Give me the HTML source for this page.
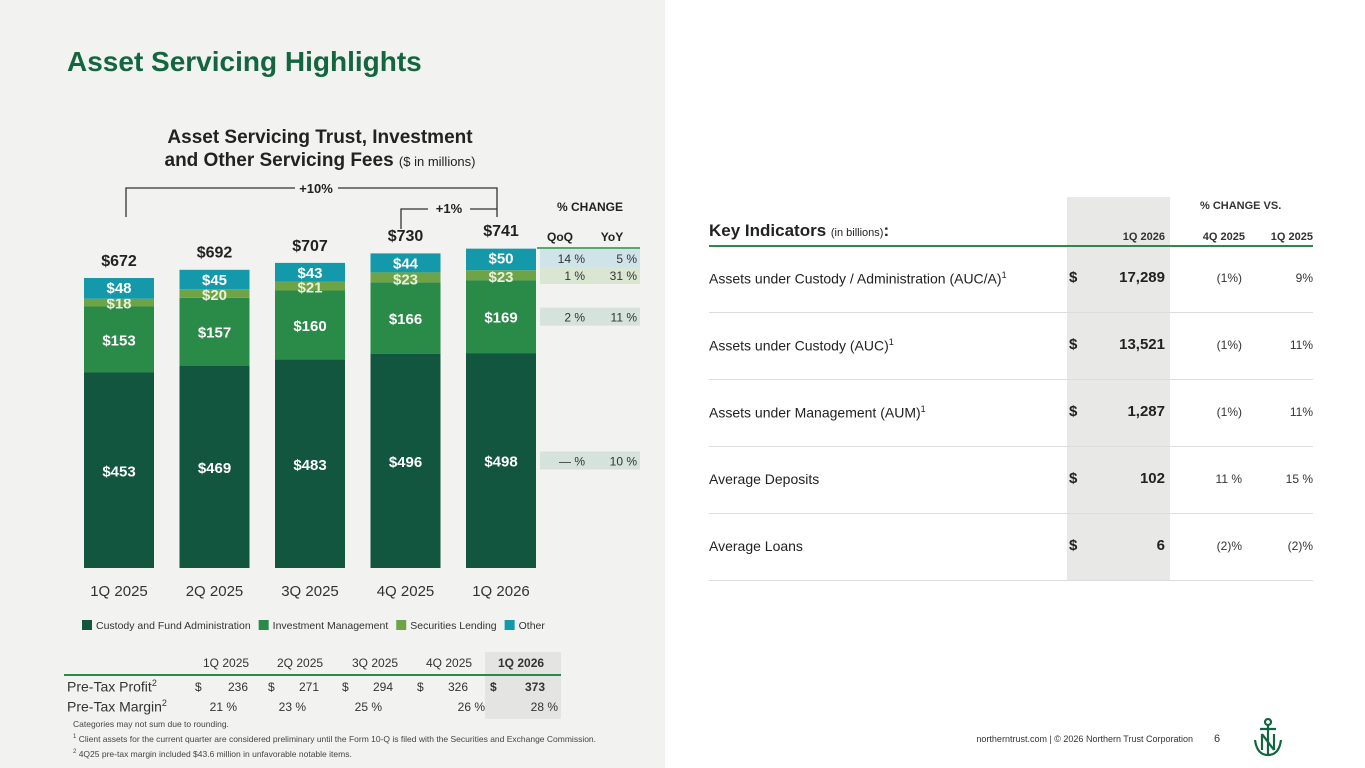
<!DOCTYPE html>
<html><head><meta charset="utf-8"><style>
body{margin:0;width:1365px;height:768px;position:relative;font-family:"Liberation Sans",sans-serif;background:#fff;overflow:hidden}
.abs{position:absolute}
#left{position:absolute;left:0;top:0;width:665px;height:768px;background:#f2f2f0}
.t{position:absolute;white-space:nowrap}
.r{text-align:right}
</style></head><body>
<div id="left"></div>
<div class="t" style="left:67px;top:46px;font-size:28px;font-weight:bold;color:#13663f">Asset Servicing Highlights</div>
<div class="t" style="left:120px;top:126px;width:400px;text-align:center;font-size:19px;font-weight:bold;color:#222;line-height:23px">Asset Servicing Trust, Investment<br>and Other Servicing Fees <span style="font-size:13px;font-weight:normal">($ in millions)</span></div>
<svg id="chart" class="abs" style="left:0;top:0" width="665" height="768"></svg>
<script>
const categories=["1Q 2025","2Q 2025","3Q 2025","4Q 2025","1Q 2026"];
const custody=[453,469,483,496,498];
const invMgmt=[153,157,160,166,169];
const secLending=[18,20,21,23,23];
const other=[48,45,43,44,50];
const totals=[672,692,707,730,741];
const seriesNames=["Custody and Fund Administration","Investment Management","Securities Lending","Other"];
const qoq=["— %","2 %","1 %","14 %"];
const yoy=["10 %","11 %","31 %","5 %"];
const colors=["#13563f","#2a8a47","#6ea446","#1499aa"];
const NS="http://www.w3.org/2000/svg";
const svg=document.getElementById('chart');
const base=568, k=290/672, barW=70;
const xC=i=>119+i*95.5;
const y=v=>base-v*k;
function mk(tag,attrs,txt){const e=document.createElementNS(NS,tag);for(const a in attrs)e.setAttribute(a,attrs[a]);if(txt!==undefined)e.textContent=txt;svg.appendChild(e);return e;}
const series=[custody,invMgmt,secLending,other];
categories.forEach((c,i)=>{
  let cum=0;
  series.forEach((s,j)=>{
    const r=mk('rect',{x:xC(i)-barW/2,y:y(cum+s[i]),width:barW,height:s[i]*k,fill:colors[j]});
    
    
    let ly=y(cum+s[i]/2)+6;
    if(j==2) ly=y(cum)+2;
    if(j==3) ly=y(cum+s[i])+15;
    const t=mk('text',{x:xC(i),y:ly,'text-anchor':'middle','font-size':15,'font-weight':'bold',fill:j==2?'#e8f0dc':'#fff','font-family':'Liberation Sans'},'$'+s[i]);
    
    
    cum+=s[i];
  });
  const tt=mk('text',{x:xC(i),y:y(totals[i])-12,'text-anchor':'middle','font-size':16,'font-weight':'bold',fill:'#222','font-family':'Liberation Sans'},'$'+totals[i]);
  
  
  const cl=mk('text',{x:xC(i),y:596,'text-anchor':'middle','font-size':15,fill:'#333','font-family':'Liberation Sans'},c);
  
  
});
mk('path',{d:'M126 217 V188 H295 M338 188 H497 V217',stroke:'#333',fill:'none','stroke-width':1.3});
mk('text',{x:316,y:193,'text-anchor':'middle','font-size':13,'font-weight':'bold',fill:'#222'},'+10%');
mk('path',{d:'M401 229 V209 H428 M470 209 H497',stroke:'#333',fill:'none','stroke-width':1.3});
mk('text',{x:449,y:213,'text-anchor':'middle','font-size':13,'font-weight':'bold',fill:'#222'},'+1%');
mk('text',{x:590,y:211,'text-anchor':'middle','font-size':12,'font-weight':'bold',fill:'#222'},'% CHANGE');
mk('text',{x:560,y:241,'text-anchor':'middle','font-size':12,'font-weight':'bold',fill:'#222'},'QoQ');
mk('text',{x:612,y:241,'text-anchor':'middle','font-size':12,'font-weight':'bold',fill:'#222'},'YoY');
mk('line',{x1:537,x2:640,y1:248,y2:248,stroke:'#2a8a47','stroke-width':1.5});
const rowBg=["#d5e3dc","#d5e3dc","#dbe6d2","#cfe4e8"];
let cum=0;
series.forEach((s,j)=>{
  const v=s[4];
  let cy=y(cum+v/2); if(j==3) cy=258;
  if(j==2) cy=275;
  const r=mk('rect',{x:540,y:cy-9,width:100,height:18,fill:rowBg[j]});
  
  
  mk('text',{x:585,y:cy+5,'text-anchor':'end','font-size':12,fill:'#333'},qoq[j]);
  mk('text',{x:637,y:cy+5,'text-anchor':'end','font-size':12,fill:'#333'},yoy[j]);
  cum+=v;
});
let lx=82;
seriesNames.forEach((n,j)=>{
  const r=mk('rect',{x:lx,y:620,width:10,height:10,fill:colors[j]});
  
  
  const t=mk('text',{x:lx+14,y:629,'font-size':10.5,fill:'#333'},n);
  
  
  lx+=14+t.getComputedTextLength()+8;
});
</script>
<div class="abs" style="left:485px;top:652px;width:76px;height:67px;background:#e4e4e2"></div>
<div class="abs" style="left:64px;top:674px;width:497px;height:2px;background:#2a8a47"></div>
<div style="font-size:12px;color:#333">
<div class="t" style="left:203px;top:656px">1Q 2025</div><div class="t" style="left:277px;top:656px">2Q 2025</div><div class="t" style="left:352px;top:656px">3Q 2025</div><div class="t" style="left:426px;top:656px">4Q 2025</div><div class="t" style="left:498px;top:656px;font-weight:bold">1Q 2026</div>
<div class="t" style="left:67px;top:678px;font-size:14px">Pre-Tax Profit<sup style="font-size:9px">2</sup></div>
<div class="t" style="left:67px;top:698px;font-size:14px">Pre-Tax Margin<sup style="font-size:9px">2</sup></div>
<div class="t" style="left:195px;top:680px">$</div><div class="t r" style="left:210px;top:680px;width:38px">236</div>
<div class="t" style="left:268px;top:680px">$</div><div class="t r" style="left:283px;top:680px;width:36px">271</div>
<div class="t" style="left:342px;top:680px">$</div><div class="t r" style="left:357px;top:680px;width:36px">294</div>
<div class="t" style="left:417px;top:680px">$</div><div class="t r" style="left:432px;top:680px;width:36px">326</div>
<div class="t" style="left:490px;top:680px;font-weight:bold">$</div><div class="t r" style="left:505px;top:680px;width:40px;font-weight:bold">373</div>
<div class="t r" style="left:199px;top:700px;width:38px">21 %</div><div class="t r" style="left:268px;top:700px;width:38px">23 %</div><div class="t r" style="left:344px;top:700px;width:38px">25 %</div><div class="t r" style="left:447px;top:700px;width:38px">26 %</div><div class="t r" style="left:520px;top:700px;width:38px">28 %</div>
</div>
<div style="font-size:8.5px;color:#444">
<div class="t" style="left:73px;top:719px">Categories may not sum due to rounding.</div>
<div class="t" style="left:73px;top:734px"><sup style="font-size:6px">1</sup> Client assets for the current quarter are considered preliminary until the Form 10-Q is filed with the Securities and Exchange Commission.</div>
<div class="t" style="left:73px;top:749px"><sup style="font-size:6px">2</sup> 4Q25 pre-tax margin included $43.6 million in unfavorable notable items.</div>
</div>
<div class="abs" style="left:1067px;top:197px;width:103px;height:383px;background:#e8e8e6"></div>
<div class="t" style="left:1200px;top:200px;font-size:11px;font-weight:bold;color:#333">% CHANGE VS.</div>
<div class="t" style="left:709px;top:221px;font-size:17px;font-weight:bold;color:#222">Key Indicators <span style="font-size:11px;font-weight:normal">(in billions)</span>:</div>
<div class="t r" style="left:1080px;top:231px;width:85px;font-size:11px;font-weight:bold;color:#333">1Q 2026</div>
<div class="t r" style="left:1180px;top:231px;width:65px;font-size:11px;font-weight:bold;color:#333">4Q 2025</div>
<div class="t r" style="left:1248px;top:231px;width:65px;font-size:11px;font-weight:bold;color:#333">1Q 2025</div>
<div class="abs" style="left:709px;top:245px;width:604px;height:2px;background:#2a8a47"></div>
<div id="kt"></div>
<script>
const kNames=["Assets under Custody / Administration (AUC/A)<sup>1</sup>","Assets under Custody (AUC)<sup>1</sup>","Assets under Management (AUM)<sup>1</sup>","Average Deposits","Average Loans"];
const kVals=["17,289","13,521","1,287","102","6"];
const kQ=["(1%)","(1%)","(1%)","11 %","(2)%"];
const kY=["9%","11%","11%","15 %","(2)%"];
const kt=document.getElementById('kt');
kNames.forEach((n,i)=>{
  const top=270+i*67;
  kt.insertAdjacentHTML('beforeend',
  `<div class="t" style="left:709px;top:${top}px;font-size:14px;color:#222">${n.replace('<sup>','<sup style="font-size:9px">')}</div>
   <div class="t" style="left:1069px;top:${top-1}px;font-size:15px;font-weight:bold;color:#222">$</div>
   <div class="t r" style="left:1090px;top:${top-1}px;width:75px;font-size:15px;font-weight:bold;color:#222">${kVals[i]}</div>
   <div class="t r" style="left:1180px;top:${top+1}px;width:62px;font-size:12px;color:#333">${kQ[i]}</div>
   <div class="t r" style="left:1248px;top:${top+1}px;width:65px;font-size:12px;color:#333">${kY[i]}</div>
   <div class="abs" style="left:709px;top:${top+42}px;width:604px;height:1px;background:#ddd"></div>`);
});
</script>
<div class="t" style="left:948px;top:734px;width:245px;text-align:right;font-size:9px;color:#333">northerntrust.com | © 2026 Northern Trust Corporation</div>
<div class="t" style="left:1214px;top:733px;font-size:11px;color:#333">6</div>
<svg class="abs" style="left:1252px;top:718px" width="32" height="40" viewBox="0 0 32 40"><g stroke="#13663f" stroke-width="2.2" fill="none"><circle cx="16" cy="4" r="3"/><path d="M8 11 H24 M16 7 V36 M3 22 Q5 37 16 37 Q27 37 29 22"/><path d="M10 16 V32 M22 16 V32 M10 16 L22 32"/></g></svg>
</body></html>
